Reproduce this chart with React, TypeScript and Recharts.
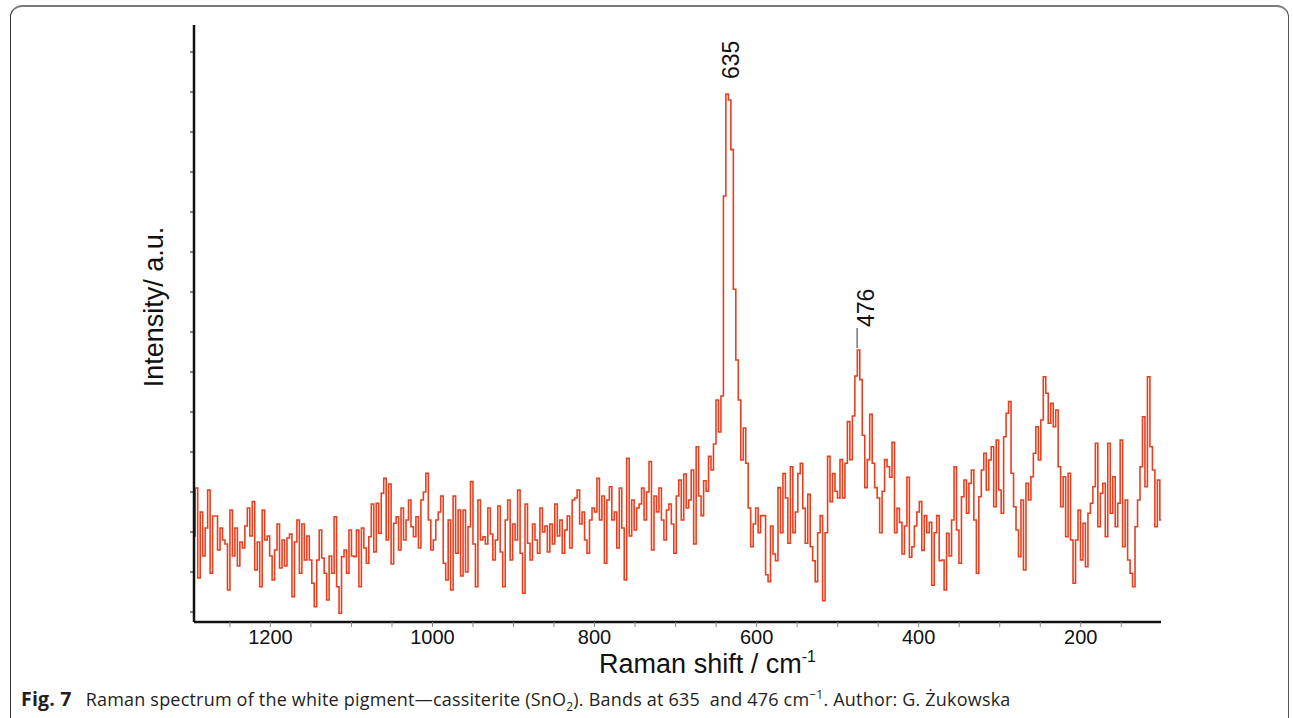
import React from 'react';
import { LineChart, Line, XAxis, YAxis, ReferenceDot, ReferenceLine, Label } from 'recharts';

// Raman shift sampling grid (cm-1), descending
const SHIFT_START = 1294.3;
const SHIFT_STEP = 3.06;

// Intensity (a.u.), in rows of 10 samples
const intensity: number[] = [
  1.9, 3.1, 0.85, 2.5, 1.4, 2.1, 3.05, 0.97, 2.4, 2.4,
  1.55, 2.1, 1.8, 1.7, 0.55, 2.55, 1.4, 2.1, 1.15, 1.75,
  1.6, 2.15, 2.6, 1.9, 2.76, 1.05, 1.75, 0.63, 2.55, 1.8,
  1.9, 1.4, 0.8, 1.55, 2.2, 1.1, 1.8, 1.15, 1.85, 1.95,
  0.38, 1.75, 2.3, 0.97, 2.2, 1.3, 1.9, 1.3, 0.72, 0.13,
  1.3, 2.05, 1.35, 0.97, 0.3, 1.4, 0.97, 2.38, 0.63, -0.03,
  1.38, 1.55, 0.97, 2.05, 1.4, 1.38, 2.05, 0.63, 2.1, 1.6,
  1.22, 1.88, 2.7, 1.5, 2.72, 1.97, 2.97, 3.34, 1.8, 3.2,
  1.2, 2.22, 2.38, 1.55, 2.6, 1.8, 2.3, 2.8, 2.13, 1.88,
  2.38, 1.6, 2.8, 3.0, 3.47, 2.3, 1.55, 1.8, 2.3, 2.5,
  2.9, 1.22, 0.8, 2.3, 0.55, 2.9, 1.47, 2.55, 0.9, 2.55,
  1.0, 2.13, 3.26, 1.7, 0.63, 2.8, 1.8, 1.88, 1.7, 2.6,
  1.95, 1.3, 1.8, 2.65, 1.5, 0.63, 2.3, 2.8, 1.3, 2.2,
  1.8, 3.05, 1.47, 0.47, 2.7, 1.72, 1.3, 2.2, 1.8, 1.47,
  2.6, 2.0, 2.15, 1.5, 2.2, 1.7, 2.7, 1.9, 2.3, 1.47,
  2.05, 2.4, 1.6, 2.8, 2.85, 3.05, 2.2, 2.5, 1.8, 1.47,
  2.3, 2.6, 2.5, 3.34, 2.3, 2.9, 1.22, 2.8, 3.13, 2.3,
  2.5, 1.6, 3.1, 2.1, 0.8, 3.84, 1.9, 2.8, 2.05, 2.6,
  2.7, 3.1, 2.3, 3.0, 3.76, 1.55, 2.9, 2.5, 3.1, 2.3,
  1.8, 2.55, 2.7, 2.2, 1.47, 2.9, 3.3, 2.3, 3.45, 2.6,
  2.8, 3.55, 1.7, 4.13, 2.9, 2.41, 3.28, 3.02, 3.89, 3.55,
  4.2, 5.3, 4.5, 5.4, 10.4, 12.95, 12.8, 11.56, 8.07, 6.3,
  5.3, 3.8, 4.6, 3.72, 2.6, 1.63, 2.2, 2.6, 1.98, 2.41,
  2.41, 0.93, 0.76, 2.15, 1.45, 1.28, 3.11, 1.98, 3.46, 2.85,
  1.72, 3.63, 1.98, 2.5, 3.46, 3.72, 2.59, 1.72, 2.94, 1.63,
  1.28, 0.76, 1.98, 2.41, 0.28, 1.98, 3.89, 2.76, 3.46, 3.02,
  2.85, 3.81, 2.85, 3.72, 4.76, 3.81, 4.9, 5.9, 6.55, 5.81,
  4.42, 3.11, 3.81, 4.94, 3.72, 3.11, 2.85, 1.98, 3.02, 3.81,
  3.63, 3.37, 4.24, 1.98, 2.59, 2.24, 1.45, 2.15, 3.37, 1.37,
  1.63, 2.15, 2.5, 2.76, 1.54, 2.41, 1.98, 2.24, 0.67, 1.98,
  2.41, 1.28, 1.3, 0.55, 1.97, 1.4, 2.3, 3.63, 2.05, 1.22,
  2.88, 3.3, 2.47, 3.22, 3.55, 2.3, 0.97, 2.88, 3.55, 3.97,
  3.05, 3.8, 4.13, 2.63, 4.3, 3.05, 2.47, 4.38, 4.97, 5.26,
  3.47, 2.63, 2.05, 1.38, 2.8, 1.05, 3.22, 2.8, 3.38, 3.97,
  4.63, 3.8, 4.8, 5.88, 5.47, 4.72, 5.22, 4.63, 5.05, 3.63,
  2.63, 3.38, 1.88, 3.47, 1.8, 0.72, 1.8, 2.55, 1.3, 2.22,
  1.13, 2.47, 2.72, 3.13, 4.22, 2.13, 2.97, 3.22, 1.88, 4.22,
  2.47, 3.38, 2.13, 2.72, 4.3, 1.63, 2.8, 1.3, 0.97, 0.63,
  2.13, 2.8, 3.63, 4.88, 3.13, 5.88, 4.13, 3.55, 2.13, 3.3,
  2.3,
];

const shifts: number[] = intensity.map((_, i) => Math.round((SHIFT_START - SHIFT_STEP * i) * 10) / 10);

const xTicks = [1250, 1200, 1150, 1100, 1050, 1000, 950, 900, 850, 800, 750, 700, 650, 600, 550, 500, 450, 400, 350, 300, 250, 200, 150];
const xTickLabels = [1200, 1000, 800, 600, 400, 200];
const yTicks = [0, 1, 2, 3, 4, 5, 6, 7, 8, 9, 10, 11, 12, 13, 14];

const peakShifts = [635, 476];
const peakHeights = [12.95, 6.55];
const peakLabels = ['635', '476'];

const X_MIN = 101;
const X_MAX = 1294.3;
const Y_MIN = -0.25;
const Y_MAX = 14.675;

const data = shifts.map((s, i) => ({ shift: s, intensity: intensity[i] }));

const FONT = '"Liberation Sans", Arial, sans-serif';

const peakLabelShape = (label: string, dx: number, dy: number) => (props: any) => {
  const { cx, cy } = props;
  return (
    <text
      transform={`translate(${cx + dx},${cy + dy}) rotate(-90)`}
      textAnchor="start"
      dominantBaseline="central"
      fontSize={23}
      fontFamily={FONT}
      fill="#111"
    >
      {label}
    </text>
  );
};

export default function App() {
  return (
    <div style={{ position: 'absolute', left: 0, top: 0, width: 1293, height: 718, overflow: 'hidden', background: '#fff' }}>
      <div
        style={{
          position: 'absolute',
          left: 10,
          top: 5,
          width: 1279,
          height: 760,
          borderTop: '2px solid #7a7a7a',
          borderLeft: '1px solid #333',
          borderRight: '1px solid #555',
          borderTopLeftRadius: 12,
          borderTopRightRadius: 12,
          boxSizing: 'border-box',
        }}
      />
      <div style={{ position: 'absolute', left: 0, top: 0 }}>
        <LineChart
          width={1293}
          height={718}
          data={data}
          margin={{ top: 25, right: 132, bottom: 36, left: 134 }}
          style={{ fontFamily: FONT }}
        >
          <XAxis
            dataKey="shift"
            type="number"
            domain={[X_MIN, X_MAX]}
            reversed
            allowDataOverflow
            ticks={xTicks}
            interval={0}
            height={60}
            tickSize={5}
            tickMargin={3}
            tickFormatter={(v: number) => (xTickLabels.includes(v) ? String(v) : '')}
            axisLine={{ stroke: '#111', strokeWidth: 2.5 }}
            tickLine={{ stroke: '#888', strokeWidth: 1 }}
            tick={{ fill: '#111', fontSize: 20, fontFamily: FONT }}
          >
            <Label
              content={(p: any) => {
                const vb = p.viewBox;
                return (
                  <text x={vb.x + vb.width / 2 + 30} y={vb.y + 51} textAnchor="middle" fontSize={27} fontFamily={FONT} fill="#111">
                    Raman shift / cm
                    <tspan fontSize={16} dy={-11}>-1</tspan>
                  </text>
                );
              }}
            />
          </XAxis>
          <YAxis
            type="number"
            domain={[Y_MIN, Y_MAX]}
            allowDataOverflow
            ticks={yTicks}
            interval={0}
            width={60}
            tickFormatter={() => ''}
            tick={{ fill: 'none', fontSize: 1 }}
            tickSize={4}
            axisLine={{ stroke: '#111', strokeWidth: 2.5 }}
            tickLine={{ stroke: '#111', strokeWidth: 1 }}
          >
            <Label
              content={(p: any) => {
                const vb = p.viewBox;
                return (
                  <text
                    transform={`translate(${vb.x + vb.width - 31.5},${vb.y + 282}) rotate(-90)`}
                    textAnchor="middle"
                    fontSize={27}
                    fontFamily={FONT}
                    fill="#111"
                  >
                    Intensity/ a.u.
                  </text>
                );
              }}
            />
          </YAxis>
          <Line
            dataKey="intensity"
            type="step"
            stroke="#E8401F"
            strokeWidth={1.6}
            dot={false}
            activeDot={false}
            isAnimationActive={false}
          />
          <ReferenceLine
            segment={[
              { x: peakShifts[1], y: peakHeights[1] + 0.05 },
              { x: peakShifts[1], y: peakHeights[1] + 0.55 },
            ]}
            stroke="#333"
            strokeWidth={1}
          />
          <ReferenceDot
            x={peakShifts[0]}
            y={peakHeights[0]}
            r={0}
            shape={peakLabelShape(peakLabels[0], 3, -15)}
          />
          <ReferenceDot
            x={peakShifts[1]}
            y={peakHeights[1]}
            r={0}
            shape={peakLabelShape(peakLabels[1], 9, -23)}
          />
        </LineChart>
      </div>
      <div
        style={{
          position: 'absolute',
          left: 21,
          top: 685,
          fontFamily: '"Open Sans", "Noto Sans", sans-serif',
          fontSize: 18,
          letterSpacing: 0.2,
          color: '#231f20',
          whiteSpace: 'nowrap',
        }}
      >
        <b style={{ fontSize: 19.5 }}>Fig. 7</b>
        <span style={{ marginLeft: 14 }}>
          Raman spectrum of the white pigment—cassiterite (SnO<sub style={{ fontSize: 12 }}>2</sub>). Bands at 635&nbsp; and 476 cm<sup style={{ fontSize: 12 }}>−1</sup>. Author: G. Żukowska
        </span>
      </div>
    </div>
  );
}
